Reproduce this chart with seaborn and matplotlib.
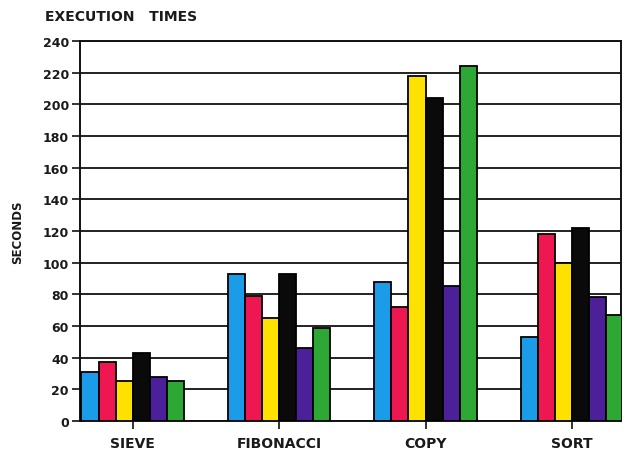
import matplotlib
matplotlib.use("Agg")
import matplotlib.pyplot as plt
import seaborn as sns
import pandas as pd

benchmarks = ["SIEVE", "FIBONACCI", "COPY", "SORT"]
systems = ["A", "B", "C", "D", "E", "F"]
colors = ["#1a9ce8", "#ee1752", "#ffe100", "#0a0a0a", "#4b2099", "#2ea834"]

# seconds per system (rows) for each benchmark (columns)
sys_a = [31, 93, 88, 53]
sys_b = [37, 79, 72, 118]
sys_c = [25, 65, 218, 100]
sys_d = [43, 93, 204, 122]
sys_e = [28, 46, 85, 78]
sys_f = [25, 59, 224, 67]
series = [sys_a, sys_b, sys_c, sys_d, sys_e, sys_f]

yticks = list(range(0, 241, 20))

rows = []
for name, vals in zip(systems, series):
    for b, v in zip(benchmarks, vals):
        rows.append({"benchmark": b, "system": name, "seconds": v})
df = pd.DataFrame(rows)

sns.set_style("white")
plt.rcParams["font.family"] = ["DejaVu Sans"]
plt.rcParams["font.weight"] = "bold"

fig = plt.figure(figsize=(6.28, 4.56), dpi=100)
ax = fig.add_axes([0.1274, 0.0746, 0.8615, 0.8333])

sns.barplot(data=df, x="benchmark", y="seconds", hue="system",
            order=benchmarks, hue_order=systems, palette=colors,
            saturation=1, width=0.70, edgecolor="black", linewidth=1.3,
            legend=False, ax=ax, zorder=3)

ax.set_ylim(0, 240)
ax.set_xlim(-0.36, 3.335)
ax.set_yticks(yticks)
ax.set_yticklabels([str(t) for t in yticks], fontsize=9, fontweight="bold",
                   color="#1a1a1a")
ax.set_xticks(range(len(benchmarks)))
ax.set_xticklabels(benchmarks, fontsize=10, fontweight="bold", color="#1a1a1a")
ax.yaxis.grid(True, color="#111111", linewidth=1.3, zorder=0)
ax.set_axisbelow(True)
for s in ["left", "bottom", "top", "right"]:
    ax.spines[s].set_visible(True)
    ax.spines[s].set_color("#111111")
    ax.spines[s].set_linewidth(1.4)
ax.tick_params(axis="y", direction="out", length=6, width=1.2, color="#111111", pad=2, left=True)
ax.tick_params(axis="x", direction="out", length=6, width=1.2, color="#111111", pad=5, bottom=True)
ax.set_xlabel("")
ax.set_ylabel("SECONDS", fontsize=8.5, fontweight="bold", color="#1a1a1a", labelpad=13)

fig.text(0.071, 0.963, "EXECUTION   TIMES", fontsize=10, fontweight="bold",
         color="#1a1a1a", ha="left", va="center")

fig.savefig("out.png", dpi=100, facecolor="white")
